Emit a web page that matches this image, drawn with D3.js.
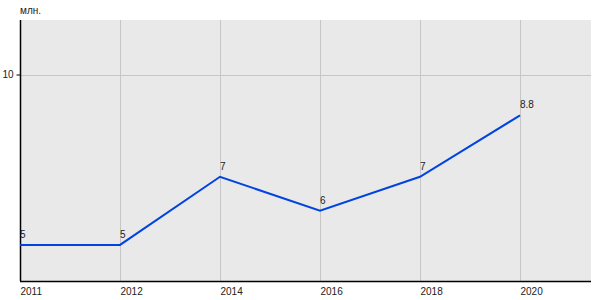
<!doctype html>
<html lang="ru">
<head>
  <meta charset="utf-8">
  <title>Line chart - D3</title>
  <style>
    body { margin: 0; background: #fff; }
    text { font-family: "Liberation Sans", Arial, sans-serif; fill: #222; }
  </style>
</head>
<body>
  <svg width="600" height="300"></svg>
  <script src="https://cdn.jsdelivr.net/npm/d3@7/dist/d3.min.js"></script>
  <script>
    var years = ['2011', '2012', '2014', '2016', '2018', '2020'];
    var values = [5, 5, 7, 6, 7, 8.8];
    var labels = ['5', '5', '7', '6', '7', '8.8'];
    var yTicks = [10];

    var plotL = 20, plotT = 20, plotR = 591, plotB = 281;
    var svg = d3.select('svg');

    var x = d3.scalePoint().domain(years).range([plotL, plotL + 500]);
    var y = d3.scaleLinear().domain([3.94, 11.6]).range([plotB, plotT]);

    // plot background
    svg.append('rect')
      .attr('x', plotL).attr('y', plotT)
      .attr('width', plotR - plotL).attr('height', plotB - plotT)
      .attr('fill', '#e9e9e9');

    // vertical grid
    svg.append('g').selectAll('line').data(years.slice(1)).enter()
      .append('line')
      .attr('x1', d => x(d) + 0.5).attr('x2', d => x(d) + 0.5)
      .attr('y1', plotT).attr('y2', plotB)
      .attr('stroke', '#c6c6c6');

    // horizontal grid
    svg.append('g').selectAll('line').data(yTicks).enter()
      .append('line')
      .attr('x1', plotL).attr('x2', plotR)
      .attr('y1', d => Math.round(y(d)) + 0.5).attr('y2', d => Math.round(y(d)) + 0.5)
      .attr('stroke', '#c6c6c6');

    // y axis
    var yAxis = svg.append('g')
      .attr('transform', 'translate(' + (plotL + 0.5) + ',0)')
      .call(d3.axisLeft(y).tickValues(yTicks).tickSize(4).tickPadding(3));
    yAxis.select('.domain').attr('d', 'M0,' + plotT + 'V' + plotB).attr('stroke', '#000').attr('stroke-width', 1.5);
    yAxis.selectAll('.tick line').attr('stroke', '#000');
    yAxis.selectAll('.tick text').attr('font-size', 10).attr('font-family', '"Liberation Sans", Arial, sans-serif').attr('fill', '#222');

    // x axis
    var xAxis = svg.append('g')
      .attr('transform', 'translate(0,' + (plotB + 0.5) + ')')
      .call(d3.axisBottom(x).tickSize(0).tickPadding(6));
    xAxis.select('.domain').attr('d', 'M' + plotL + ',0H' + plotR).attr('stroke', '#000').attr('stroke-width', 1.5);
    xAxis.selectAll('.tick text')
      .attr('text-anchor', 'start')
      .attr('font-size', 10)
      .attr('font-family', '"Liberation Sans", Arial, sans-serif')
      .attr('fill', '#222');

    // unit
    svg.append('text')
      .attr('x', plotL).attr('y', 14)
      .attr('font-size', 10)
      .text('млн.');

    // line
    var line = d3.line()
      .x((d, i) => x(years[i]))
      .y(d => y(d));
    svg.append('path')
      .datum(values)
      .attr('d', line)
      .attr('fill', 'none')
      .attr('stroke', '#0044e0')
      .attr('stroke-width', 2);

    // value labels
    svg.append('g').selectAll('text').data(values).enter()
      .append('text')
      .attr('x', (d, i) => x(years[i]))
      .attr('y', d => y(d) - 7)
      .attr('font-size', 10)
      .text((d, i) => labels[i]);
  </script>
</body>
</html>
